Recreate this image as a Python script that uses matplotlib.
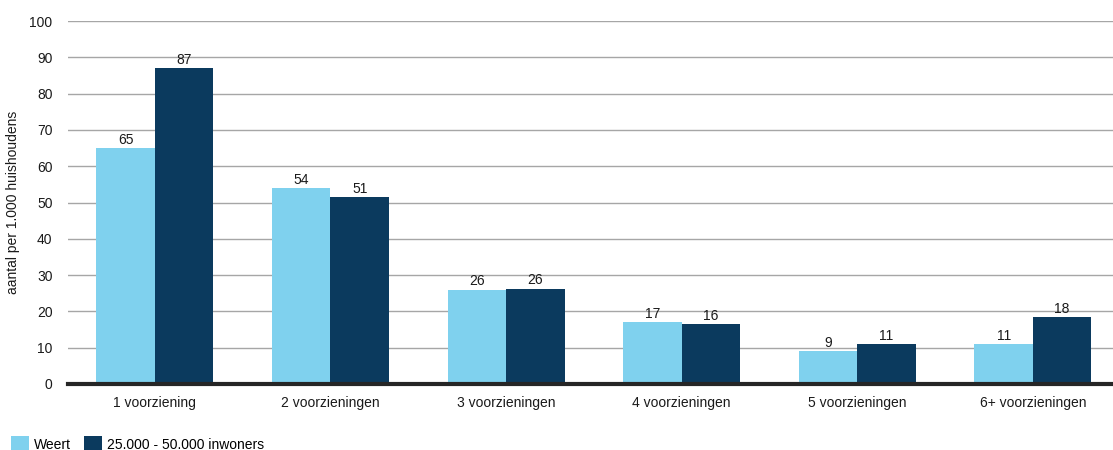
import matplotlib.pyplot as plt
import numpy as np

plt.rcParams['font.family'] = ['Liberation Sans', 'DejaVu Sans']

categories = ['1 voorziening', '2 voorzieningen', '3 voorzieningen',
              '4 voorzieningen', '5 voorzieningen', '6+ voorzieningen']
weert = [65, 54, 26, 17, 9, 11]
gemeenten = [87, 51.4, 26.2, 16.4, 11, 18.4]
series_names = ['Weert', '25.000 - 50.000 inwoners']

col1 = '#7fd1ee'
col2 = '#0b3a5e'

fig = plt.figure(figsize=(11.13, 4.5), dpi=100)
# plot area runs to the right edge of the image
ax = fig.add_axes([0.061, 0.147, 0.939, 0.806])

x = np.arange(len(categories))
width = 0.333
b1 = ax.bar(x - width / 2, weert, width, color=col1, label=series_names[0], zorder=3)
b2 = ax.bar(x + width / 2, gemeenten, width, color=col2, label=series_names[1], zorder=3)
ax.bar_label(b1, fmt='%.0f', padding=1, fontsize=10, color='#1a1a1a')
ax.bar_label(b2, fmt='%.0f', padding=1, fontsize=10, color='#1a1a1a')

ax.set_xlim(-0.495, 5.456)
ax.set_ylim(0, 100)
ax.set_yticks(range(0, 101, 10))
ax.set_xticks(x)
ax.set_xticklabels(categories)
ax.tick_params(axis='both', length=0, labelsize=10, colors='#1a1a1a')
ax.tick_params(axis='x', pad=9)
ax.tick_params(axis='y', pad=11)
ax.grid(axis='y', color='#a6a6a6', linewidth=1, zorder=0)
for s in ['top', 'right', 'left']:
    ax.spines[s].set_visible(False)
ax.spines['bottom'].set_color('#262626')
ax.spines['bottom'].set_linewidth(3)
ax.spines['bottom'].set_zorder(4)
ax.set_ylabel('aantal per 1.000 huishoudens', fontsize=10, color='#1a1a1a', labelpad=7)

fig.legend(loc='lower left', bbox_to_anchor=(0.002, -0.022), ncol=2, frameon=False,
           fontsize=10, handlelength=1.3, handleheight=1.3, handletextpad=0.4,
           columnspacing=0.9, borderaxespad=0.2)

fig.savefig('out.png', dpi=100)
